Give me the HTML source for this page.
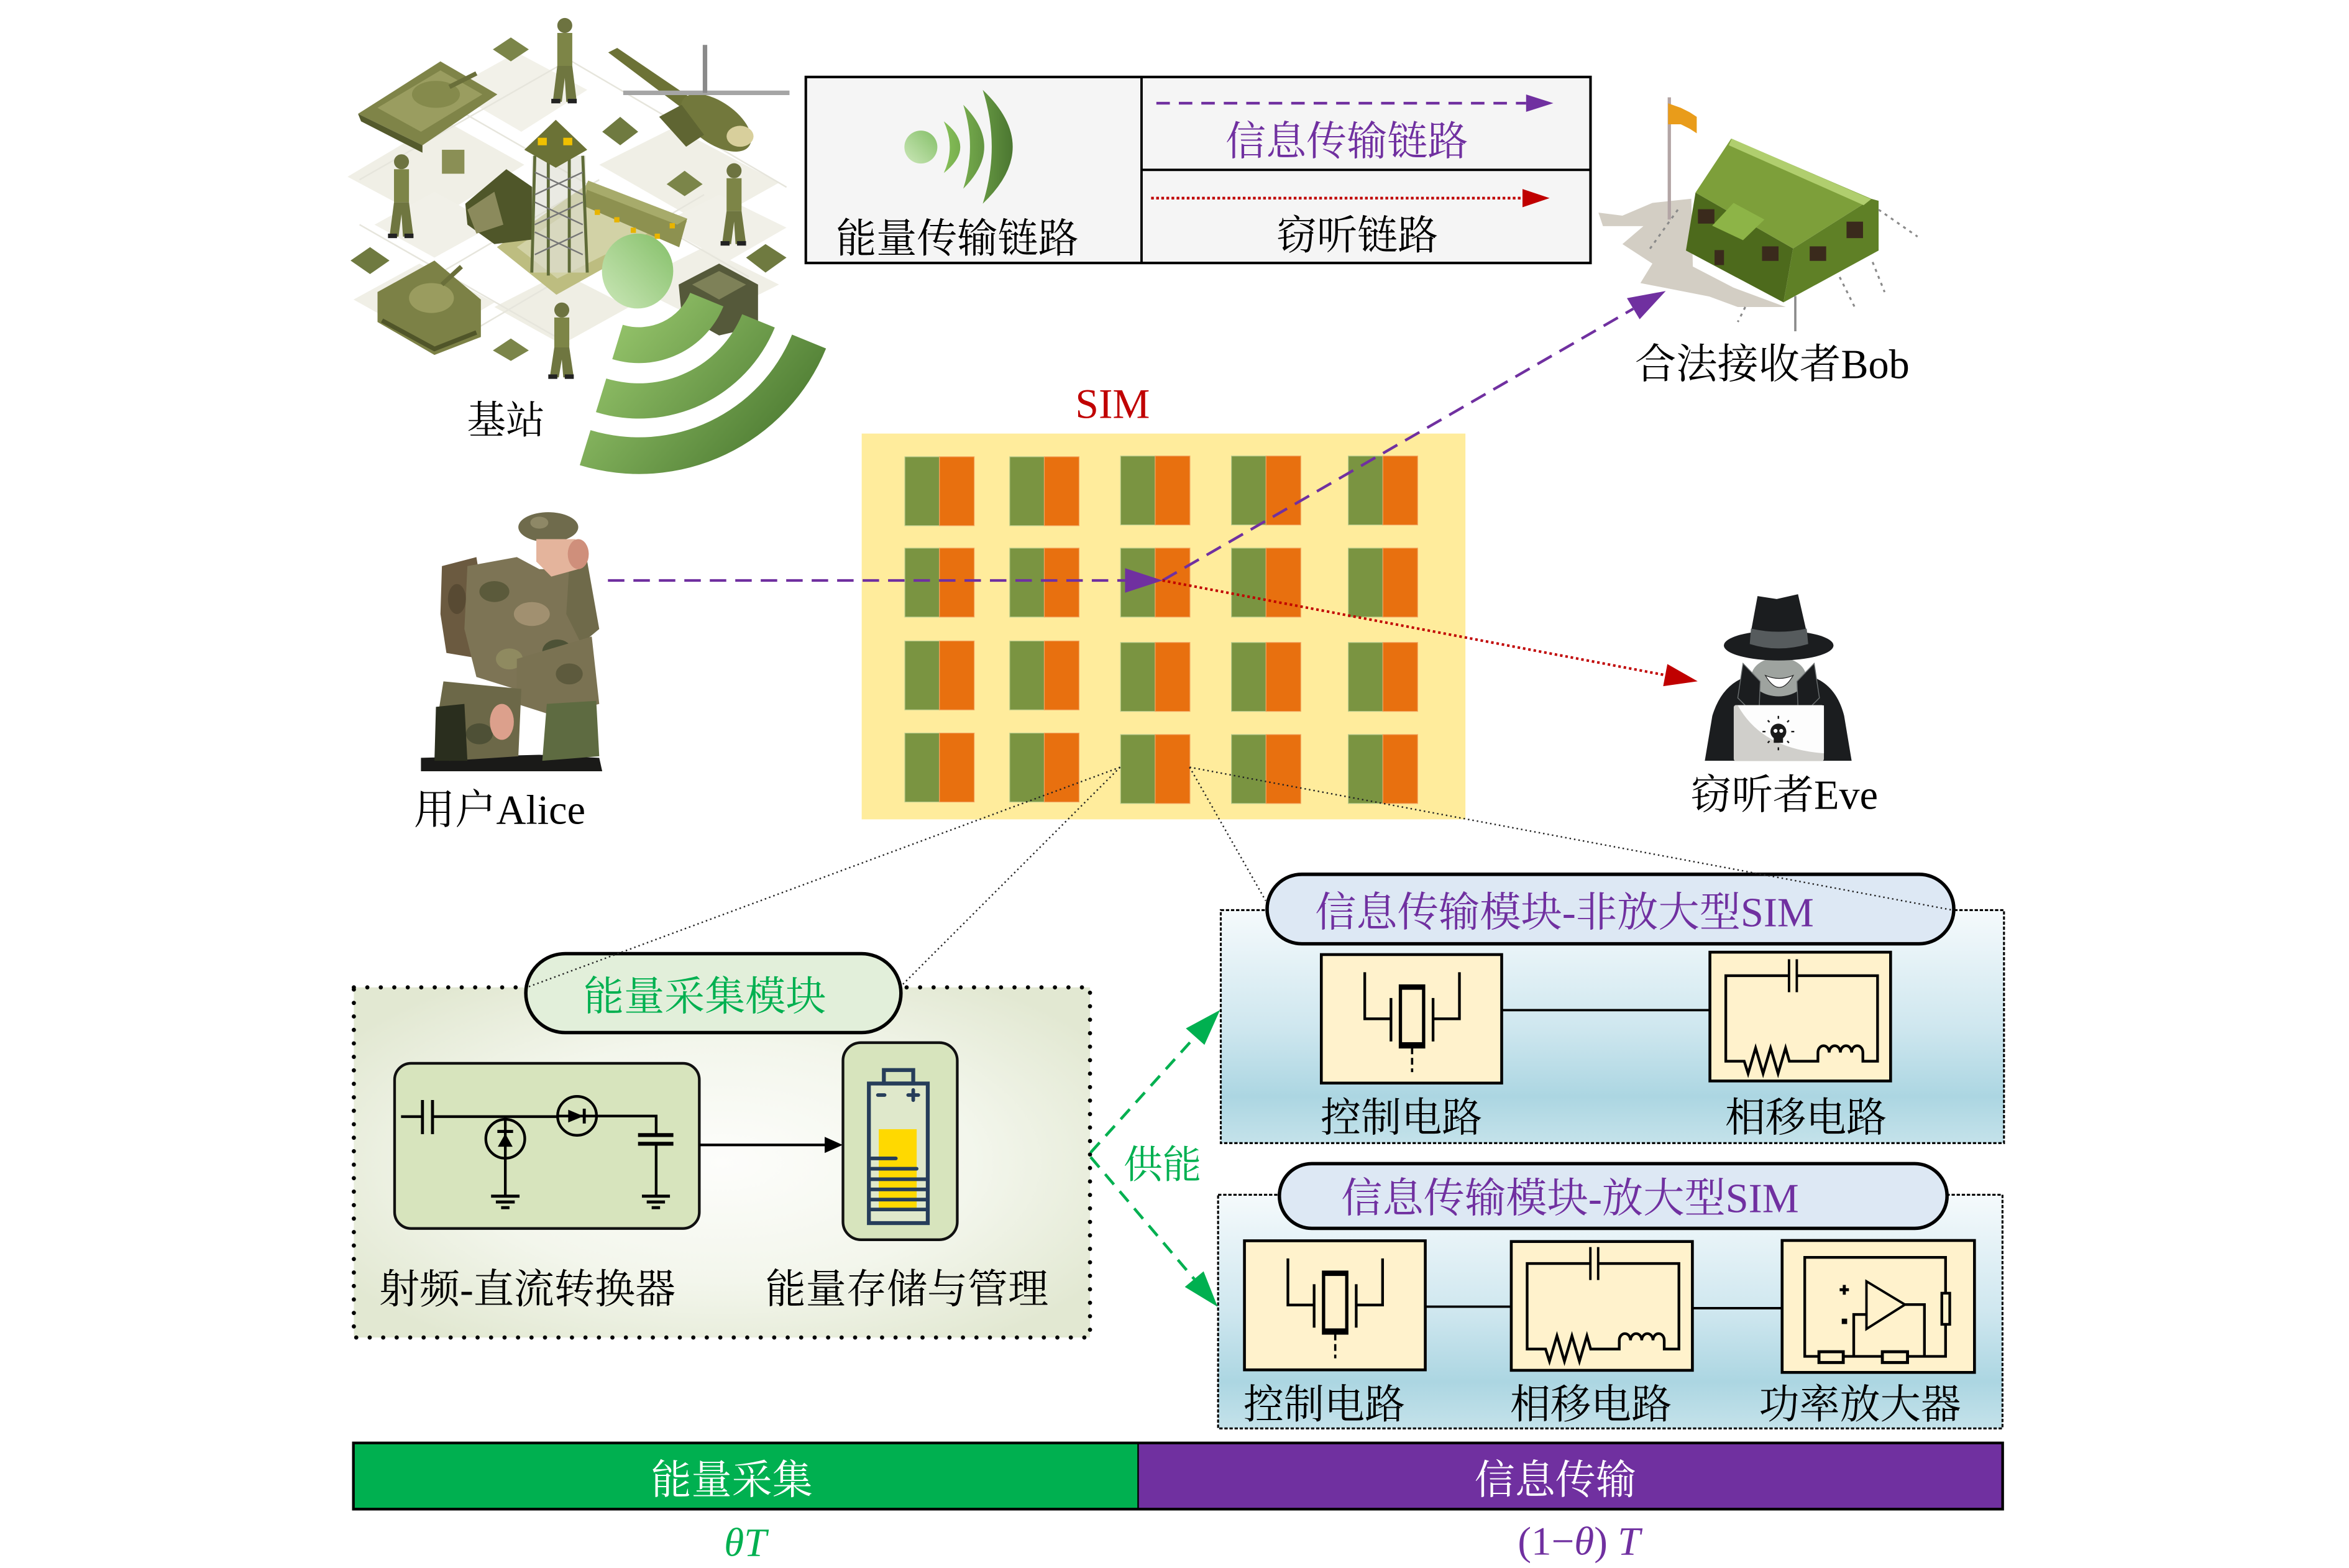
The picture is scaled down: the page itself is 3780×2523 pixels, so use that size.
<!DOCTYPE html>
<html><head><meta charset="utf-8"><title>diagram</title>
<style>
html,body{margin:0;padding:0;background:#fff;width:3780px;height:2523px;overflow:hidden}
svg{display:block}
text{font-family:"Liberation Serif","Noto Serif CJK SC","Noto Sans CJK SC",serif}
</style></head><body>
<svg xmlns="http://www.w3.org/2000/svg" xmlns:xlink="http://www.w3.org/1999/xlink" width="3780" height="2523" viewBox="0 0 1568 1047" preserveAspectRatio="none">
<defs>
<linearGradient id="ringG" gradientUnits="userSpaceOnUse" x1="395" y1="190" x2="550" y2="320">
 <stop offset="0" stop-color="#a2d175"/><stop offset="1" stop-color="#3d6b25"/>
</linearGradient>
<linearGradient id="ballG" x1="0" y1="1" x2="1" y2="0">
 <stop offset="0" stop-color="#cbe7b8"/><stop offset="1" stop-color="#84bf68"/>
</linearGradient>
<linearGradient id="legG" gradientUnits="userSpaceOnUse" x1="625" y1="0" x2="677" y2="0">
 <stop offset="0" stop-color="#8cc75c"/><stop offset="1" stop-color="#4a7530"/>
</linearGradient>
<radialGradient id="enG" cx="0.5" cy="0.5" r="0.62">
 <stop offset="0" stop-color="#fdfdfb"/><stop offset="0.55" stop-color="#f3f6ec"/><stop offset="1" stop-color="#e2e8d2"/>
</radialGradient>
<linearGradient id="blG" x1="0" y1="0" x2="0" y2="1">
 <stop offset="0" stop-color="#f5fafc"/><stop offset="0.5" stop-color="#cfe7ef"/><stop offset="0.8" stop-color="#acd6e2"/><stop offset="1" stop-color="#c4e2ea"/>
</linearGradient>
<g id="cell">
 <rect x="0" y="0" width="23.1" height="46" fill="#7a9441" stroke="#b9cc8e" stroke-width="0.5"/>
 <rect x="23.1" y="0" width="23.2" height="46" fill="#e8700f" stroke="#f2a25e" stroke-width="0.5"/>
</g>
<g id="ctrl" fill="none" stroke="#000" stroke-width="1.8">
 <path d="M29,11.8 V42.9 H47"/>
 <path d="M92.2,11.8 V42.9 H74.6"/>
 <path d="M46.5,29 V58"/>
 <path d="M74.6,29 V58"/>
 <rect x="52.8" y="21" width="15.5" height="40.6" stroke-width="2.2"/>
 <rect x="52.8" y="20" width="15.5" height="3.5" fill="#000" stroke="none"/>
 <rect x="52.8" y="58.5" width="15.5" height="3.5" fill="#000" stroke="none"/>
 <path d="M60.6,62 V78.5" stroke-width="1.5" stroke-dasharray="4.5 2.5"/>
</g>
<g id="phase" fill="none" stroke="#000" stroke-width="1.8">
 <path d="M52.8,15.7 H10.6 V72.8 H22.9 L25.5,81 L30.5,64 L35.5,81 L40.5,64 L45.5,81 L50.5,64 L53,72.8 H72.1 V67 a3.75,4.5 0 0 1 7.5,0 a3.75,4.5 0 0 1 7.5,0 a3.75,4.5 0 0 1 7.5,0 a3.75,4.5 0 0 1 7.5,0 V72.8 H111.9 V15.7 H58"/>
 <path d="M52.8,4.7 V26.7 M58,4.7 V26.7" stroke-width="1.6"/>
</g>
</defs>

<rect x="0" y="0" width="1568" height="1047" fill="#fff"/>

<!-- ===== Base station military illustration ===== -->
<g id="mil">
 <polygon points="232,118 296,80 350,110 288,148" fill="#f0efe6"/>
 <polygon points="300,60 345,35 392,60 348,88" fill="#f2f1e9"/>
 <polygon points="400,110 450,85 520,122 470,150" fill="#f0efe6"/>
 <polygon points="236,200 280,176 330,202 286,228" fill="#f0efe6"/>
 <polygon points="420,190 470,165 520,190 470,215" fill="#f0efe6"/>
 <polygon points="330,205 375,182 420,205 375,230" fill="#efeee4"/>
 <polygon points="250,150 290,128 330,150 290,172" fill="#f1f0e8"/>
 <polygon points="440,150 480,130 525,152 485,175" fill="#f1f0e8"/>
 <path d="M240,120 L380,40 L525,125 M255,205 L400,120 M300,230 L470,130 M240,150 L380,230 M300,70 L500,185" stroke="#e6e5dc" stroke-width="1" fill="none"/>
 <polygon points="239,76 294,41 332,63 282,97" fill="#7f8448"/>
 <polygon points="239,76 282,97 282,102 241,81" fill="#545a2c"/>
 <polygon points="252,72 294,47 322,63 281,88" fill="#9a9d60"/>
 <ellipse cx="291" cy="63" rx="16" ry="9" fill="#858a4c"/>
 <line x1="300" y1="58" x2="318" y2="49" stroke="#6a6f3a" stroke-width="3"/>
 <polygon points="406,35 412,32 462,66 455,72" fill="#6c7236"/>
 <ellipse cx="478" cy="82" rx="27" ry="14" transform="rotate(35 478 82)" fill="#72783c"/>
 <ellipse cx="494" cy="91" rx="9" ry="7" fill="#d8cf9c"/>
 <polygon points="440,78 455,70 470,90 458,98" fill="#5f6532"/>
 <line x1="416" y1="62" x2="527" y2="62" stroke="#a5a5a5" stroke-width="3"/>
 <line x1="470.6" y1="30" x2="470.6" y2="62" stroke="#8a8a8a" stroke-width="3"/>
 <polygon points="331.7,165 392.6,122.7 458.7,148.1 371.4,196.8" fill="#bdbd80"/>
 <polygon points="345,165 392,133 444,150 372,186" fill="#d2d2a6"/>
 <polygon points="392.6,120.6 458.7,146 453.4,165.1 389.9,137.6" fill="#8d9150"/>
 <polygon points="392.6,120.6 458.7,146 452,150 390,126" fill="#a7ab6b"/>
 <rect x="397" y="140" width="3.5" height="3.5" fill="#e8b400"/>
 <rect x="410" y="145" width="3.5" height="3.5" fill="#e8b400"/>
 <rect x="421" y="152" width="3.5" height="3.5" fill="#e8b400"/>
 <rect x="437" y="156" width="3.5" height="3.5" fill="#e8b400"/>
 <rect x="447" y="149" width="3.5" height="3.5" fill="#e8b400"/>
 <polygon points="310.6,136 338,113 355.5,125 355,160 330,163 312,150" fill="#4f5629"/>
 <polygon points="312,140 330,128 336,150 318,156" fill="#8b8a5c"/>
 <rect x="355" y="104" width="36" height="78" fill="#dcdcd0" opacity="0.6"/>
 <path d="M357,104 L355,182 M389,104 L392,182 M366,104 L366,184 M380,104 L380,182" stroke="#5f6b38" stroke-width="2"/>
 <path d="M357,115 L389,130 M389,115 L357,130 M357,135 L389,150 M389,135 L357,150 M357,155 L389,170 M389,155 L357,170" stroke="#777" stroke-width="1"/>
 <polygon points="350,100 371,80 392,100 371,112" fill="#6b7236"/>
 <rect x="359" y="92" width="6" height="5" fill="#f0c000"/>
 <rect x="376" y="92" width="6" height="5" fill="#f0c000"/>
 <polygon points="329,33 341,25 353,33 341,41" fill="#7b8549"/>
 <polygon points="402,88 414,78 426,88 414,97" fill="#6f7a40"/>
 <rect x="295" y="100" width="15" height="16" fill="#8a8f55"/>
 <polygon points="234,174 247,165 260,174 247,183" fill="#6f7a40"/>
 <polygon points="445,123 457,114 469,123 457,131" fill="#7b8549"/>
 <polygon points="498,172 511,163 525,172 511,182" fill="#6f7a40"/>
 <polygon points="329,234 341,226 353,234 341,241" fill="#7b8549"/>
 <polygon points="252,195 290,174 321,200 321,225 290,237 252,215" fill="#7c8146"/>
 <ellipse cx="288" cy="199" rx="15" ry="10" fill="#9a9c5f"/>
 <line x1="295" y1="190" x2="308" y2="178" stroke="#6a6f3a" stroke-width="3"/>
 <path d="M255,214 L290,233 L318,222" stroke="#505529" stroke-width="3" fill="none"/>
 <polygon points="453,190 480,176 506,190 506,218 480,224 455,210" fill="#55593a"/>
 <polygon points="462,190 480,181 498,190 480,200" fill="#7e8158"/>
 <g>
  <ellipse cx="377" cy="17" rx="5" ry="5" fill="#6d7340"/><rect x="372" y="22" width="10" height="22" fill="#7d8547"/><polygon points="372,44 382,44 385,68 378,68 377,52 375,68 369,68" fill="#6f7640"/><rect x="368" y="66" width="6" height="3" fill="#222"/><rect x="379" y="66" width="6" height="3" fill="#222"/>
 </g>
 <g>
  <ellipse cx="268" cy="108" rx="5" ry="5" fill="#6d7340"/><rect x="263" y="113" width="10" height="22" fill="#7d8547"/><polygon points="263,135 273,135 276,158 269,158 268,143 266,158 260,158" fill="#6f7640"/><rect x="259" y="156" width="6" height="3" fill="#222"/><rect x="270" y="156" width="6" height="3" fill="#222"/>
 </g>
 <g>
  <ellipse cx="490" cy="114" rx="5" ry="5" fill="#6d7340"/><rect x="485" y="119" width="10" height="22" fill="#7d8547"/><polygon points="485,141 495,141 498,163 491,163 490,148 488,163 482,163" fill="#6f7640"/><rect x="481" y="161" width="6" height="3" fill="#222"/><rect x="492" y="161" width="6" height="3" fill="#222"/>
 </g>
 <g>
  <ellipse cx="375" cy="207" rx="5" ry="5" fill="#6d7340"/><rect x="370" y="212" width="10" height="20" fill="#7d8547"/><polygon points="370,232 380,232 383,252 376,252 375,240 373,252 367,252" fill="#6f7640"/><rect x="366" y="250" width="6" height="3" fill="#222"/><rect x="377" y="250" width="6" height="3" fill="#222"/>
 </g>
</g>

<path d="M482.9,204.6 A61,61 0 0 1 408.7,239.8 L415.7,216.9 A37,37 0 0 0 460.7,195.5 Z" fill="url(#ringG)"/>
<path d="M517.2,218.7 A98,98 0 0 1 397.8,275.2 L404.7,252.7 A74.5,74.5 0 0 0 495.4,209.8 Z" fill="url(#ringG)"/>
<path d="M551.4,232.7 A135,135 0 0 1 387.0,310.6 L394.2,287.2 A110.5,110.5 0 0 0 528.7,223.4 Z" fill="url(#ringG)"/>
<ellipse cx="425.6" cy="181" rx="23.8" ry="25" fill="url(#ballG)"/>
<text x="337.7" y="289.5" font-size="26" text-anchor="middle" fill="#000">基站</text>

<!-- ===== Legend ===== -->
<rect x="537.9" y="51.4" width="523.8" height="124.2" fill="#f5f5f5" stroke="#000" stroke-width="1.7"/>
<line x1="762" y1="51.4" x2="762" y2="175.6" stroke="#000" stroke-width="1.6"/>
<line x1="762" y1="113.4" x2="1061.7" y2="113.4" stroke="#000" stroke-width="1.6"/>
<ellipse cx="614.7" cy="98.2" rx="11" ry="11" fill="url(#ballG)"/>
<path d="M630,81 Q652,98.2 630,115.5 Q638,98.2 630,81 Z" fill="url(#legG)"/>
<path d="M643,70 Q671,98 643,126 Q652,98 643,70 Z" fill="url(#legG)"/>
<path d="M656,60 Q696,98 656,136 Q668,98 656,60 Z" fill="url(#legG)"/>
<text x="639" y="168.5" font-size="27" text-anchor="middle" fill="#000">能量传输链路</text>
<line x1="771.9" y1="68.9" x2="1018.7" y2="68.9" stroke="#7030a0" stroke-width="1.8" stroke-dasharray="9 6"/>
<polygon points="1018.7,63.1 1036.9,68.9 1018.7,74.7" fill="#7030a0"/>
<text x="899" y="103.5" font-size="27" text-anchor="middle" fill="#7030a0">信息传输链路</text>
<line x1="768.4" y1="132.3" x2="1016.3" y2="132.3" stroke="#c00000" stroke-width="1.8" stroke-dasharray="1.8 1.6"/>
<polygon points="1016.3,126.2 1034.4,132.3 1016.3,138.4" fill="#c00000"/>
<text x="906" y="166.5" font-size="27" text-anchor="middle" fill="#000">窃听链路</text>

<!-- ===== Bob tent ===== -->
<polygon points="1067,142 1083,144 1103,135.5 1129,132.7 1130,178 1157,192 1192,205 1160,205 1141,198 1095,189 1103,176 1083,163 1097,151 1070,151" fill="#d3cec4"/>
<line x1="1114.3" y1="65" x2="1114.3" y2="146.6" stroke="#b3a5a5" stroke-width="2.2"/>
<polygon points="1113.5,69 1122,72 1128,75 1132.6,78 1132.6,89 1128,86 1122,83 1113.5,83" fill="#e99c1a"/>
<polygon points="1131.8,128.6 1196.9,165.9 1190.5,201.9 1125.4,167.3" fill="#4d6a1c"/>
<polygon points="1196.9,165.9 1249.3,132.8 1254,134.1 1254,167.3 1190.5,201.9" fill="#5f8026"/>
<polygon points="1155.6,92.6 1249.3,132.8 1196.9,165.9 1131.8,128.6" fill="#7d9f3a"/>
<polygon points="1156,92.6 1249,133 1244,137 1154,97" fill="#b0ce6e"/>
<polygon points="1157.2,135.5 1177.8,146.6 1163.5,160.4 1142.9,150.7" fill="#8db447"/>
<rect x="1133.4" y="139.7" width="11" height="9.6" fill="#3a2a1c"/>
<rect x="1176.2" y="164.5" width="11" height="9.7" fill="#3a2a1c"/>
<rect x="1208" y="164.5" width="11" height="9.7" fill="#3a2a1c"/>
<rect x="1232.6" y="148" width="11" height="11" fill="#3a2a1c"/>
<rect x="1144.5" y="167" width="6.3" height="10" fill="#3a2a1c"/>
<path d="M1254,140 L1280,158 M1250,175 L1258,195 M1228,185 L1238,205 M1120,140 L1100,168 M1165,205 L1160,215" stroke="#8a8a8a" stroke-width="1.3" stroke-dasharray="2 3" fill="none"/>
<line x1="1198.4" y1="197.7" x2="1198.4" y2="221.2" stroke="#8a8a8a" stroke-width="1.5"/>
<text x="1183" y="252.5" font-size="27.5" text-anchor="middle" fill="#000">合法接收者Bob</text>

<!-- ===== SIM ===== -->
<text x="742.7" y="279" font-size="28" text-anchor="middle" fill="#c00000">SIM</text>
<rect x="575.2" y="289.5" width="403" height="257.6" fill="#ffec9c"/>
<use xlink:href="#cell" x="604" y="305"/><use xlink:href="#cell" x="674" y="305"/><use xlink:href="#cell" x="748" y="304.5"/><use xlink:href="#cell" x="822" y="304.5"/><use xlink:href="#cell" x="900" y="304.5"/>
<use xlink:href="#cell" x="604" y="366"/><use xlink:href="#cell" x="674" y="366"/><use xlink:href="#cell" x="748" y="366"/><use xlink:href="#cell" x="822" y="366"/><use xlink:href="#cell" x="900" y="366"/>
<use xlink:href="#cell" x="604" y="428"/><use xlink:href="#cell" x="674" y="428"/><use xlink:href="#cell" x="748" y="429"/><use xlink:href="#cell" x="822" y="429"/><use xlink:href="#cell" x="900" y="429"/>
<use xlink:href="#cell" x="604" y="489.5"/><use xlink:href="#cell" x="674" y="489.5"/><use xlink:href="#cell" x="748" y="490.5"/><use xlink:href="#cell" x="822" y="490.5"/><use xlink:href="#cell" x="900" y="490.5"/>

<!-- ===== Alice ===== -->
<g>
 <polygon points="281,506 360,504 400,506 402,515 281,515" fill="#1a1a18"/>
 <polygon points="295,378 318,372 326,420 322,440 298,436 294,410" fill="#6b5a40"/>
 <polygon points="312,378 345,372 360,380 388,380 392,420 386,455 350,462 318,452 310,420" fill="#7d7455"/>
 <ellipse cx="330" cy="395" rx="10" ry="7" fill="#5b5a3b"/>
 <ellipse cx="355" cy="410" rx="12" ry="8" fill="#a19070"/>
 <ellipse cx="372" cy="435" rx="10" ry="8" fill="#4d5236"/>
 <ellipse cx="340" cy="440" rx="9" ry="7" fill="#8f8a60"/>
 <ellipse cx="305" cy="400" rx="6" ry="10" fill="#584a33"/>
 <polygon points="380,378 392,375 400,420 388,430 378,410" fill="#6f6a4a"/>
 <polygon points="345,440 395,425 400,470 370,478 345,470" fill="#7a7252"/>
 <ellipse cx="380" cy="450" rx="9" ry="7" fill="#5d5a3d"/>
 <polygon points="365,470 398,468 400,505 362,508" fill="#5e6b41"/>
 <polygon points="296,455 348,460 346,505 300,508 292,480" fill="#6c6848"/>
 <ellipse cx="320" cy="490" rx="9" ry="7" fill="#4e5036"/>
 <polygon points="291,472 310,470 312,508 290,508" fill="#2a2e1e"/>
 <ellipse cx="335" cy="482" rx="8" ry="12" fill="#dca08c"/>
 <ellipse cx="366" cy="352" rx="20" ry="10" fill="#6f6b4c"/>
 <ellipse cx="360" cy="349" rx="6" ry="4" fill="#8e8866"/>
 <polygon points="358,360 384,360 386,380 368,385 358,375" fill="#e4b49c"/>
 <ellipse cx="386" cy="370" rx="7" ry="10" fill="#cf8f7b"/>
</g>
<text x="333.5" y="550" font-size="27.5" text-anchor="middle" fill="#000">用户Alice</text>

<!-- ===== Eve ===== -->
<g>
 <path d="M1138,508 L1143,478 Q1149,458 1165,452 L1210,452 Q1226,458 1231,478 L1236,508 Z" fill="#1b1d1f"/>
 <ellipse cx="1187.3" cy="452" rx="18.3" ry="13" fill="#9ea39f"/>
 <polygon points="1163.5,443 1175,455 1174,480 1160,466" fill="#1b1d1f" stroke="#6a6f70" stroke-width="0.6"/>
 <polygon points="1211,443 1199.5,455 1200.5,480 1214.5,466" fill="#1b1d1f" stroke="#6a6f70" stroke-width="0.6"/>
 <path d="M1178.4,451 Q1187.7,467 1197,451 Q1187.7,455 1178.4,451 Z" fill="#fff" stroke="#222" stroke-width="0.5"/>
 <ellipse cx="1187.3" cy="431" rx="36.6" ry="10" fill="#1b1d1f"/>
 <path d="M1173.2,398 L1186,400 L1200.2,396.8 L1206.4,424 Q1187,429 1168.4,424 Z" fill="#1b1d1f"/>
 <path d="M1168.8,419.7 Q1187,424 1206,419.7 L1207,430 Q1187,436 1168,430 Z" fill="#565b5d"/>
 <rect x="1157.3" y="470.8" width="60.2" height="37.4" rx="1.5" fill="#d0cfcb"/>
 <path d="M1160,471 H1217.5 V503 Q1176,500 1160,471 Z" fill="#fdfdfd"/>
 <circle cx="1187.1" cy="488.5" r="5.3" fill="#1a1a1a"/>
 <rect x="1184" y="492" width="6.2" height="4" fill="#1a1a1a"/>
 <circle cx="1185.2" cy="488" r="1.3" fill="#fff"/><circle cx="1189" cy="488" r="1.3" fill="#fff"/>
 <path d="M1187.1,478 V480 M1187.1,499 V501 M1176.5,488.5 H1178.5 M1195.7,488.5 H1197.7 M1180,481 L1181.2,482.2 M1194.2,481 L1193,482.2 M1180,496 L1181.2,494.8 M1194.2,496 L1193,494.8" stroke="#1a1a1a" stroke-width="1"/>
</g>
<text x="1191" y="540" font-size="27.5" text-anchor="middle" fill="#000">窃听者Eve</text>

<!-- ===== Links ===== -->
<line x1="405.8" y1="387.6" x2="751" y2="387.6" stroke="#7030a0" stroke-width="1.8" stroke-dasharray="11 6"/>
<polygon points="751,379.4 776,387.6 751,395.8" fill="#7030a0"/>
<line x1="776" y1="387.6" x2="1090.2" y2="206.2" stroke="#7030a0" stroke-width="1.8" stroke-dasharray="11 6"/>
<polygon points="1111.9,194.3 1086,199.1 1094.5,213.2" fill="#7030a0"/>
<line x1="776" y1="387.6" x2="1111.6" y2="450.8" stroke="#c00000" stroke-width="1.7" stroke-dasharray="1.7 1.9"/>
<polygon points="1133.2,454.9 1110.2,458.2 1113,443.4" fill="#c00000"/>

<!-- ===== Energy module ===== -->
<rect x="236.2" y="659.3" width="491.4" height="233.8" fill="url(#enG)" stroke="#000" stroke-width="2.8" stroke-dasharray="0 9" stroke-linecap="round"/>
<rect x="351" y="636.8" width="250.4" height="52.7" rx="26.3" fill="#e2efda" stroke="#000" stroke-width="2.3"/>
<text x="470.5" y="674.5" font-size="27" text-anchor="middle" fill="#00b050">能量采集模块</text>
<rect x="263.4" y="710" width="203.4" height="110.3" rx="11" fill="#d7e4bd" stroke="#111" stroke-width="1.8"/>
<g stroke="#000" stroke-width="1.8" fill="none">
 <path d="M267.7,745.6 H282"/>
 <path d="M282,734.5 V757.3 M288.7,734.5 V757.3" stroke-width="2"/>
 <path d="M288.7,745.6 H372.2"/>
 <circle cx="385.2" cy="745.1" r="13"/>
 <path d="M372.2,745.2 H398.7 H438 V757.9"/>
 <path d="M425.9,757.9 H449.5 M425.9,763.7 H449.5" stroke-width="2.6"/>
 <path d="M438,763.7 V798.7"/>
 <path d="M428.5,798.7 H447.2 M431.7,802.6 H443.9 M435,806.4 H440.6" stroke-width="2"/>
 <circle cx="337.3" cy="760.4" r="13"/>
 <path d="M337.3,745.6 V798.7"/>
 <path d="M327.8,798.7 H346.8 M331,802.6 H343.6 M334.5,806.4 H340.1" stroke-width="2"/>
 <path d="M332,755.5 H342.5" stroke-width="2"/>
 <path d="M390,740.3 V750.2" stroke-width="2"/>
</g>
<polygon points="379.3,741 389.5,745.3 379.3,749.5" fill="#000"/>
<polygon points="332.3,765.7 342.2,765.7 337.3,757" fill="#000"/>
<line x1="466.8" y1="764.5" x2="551" y2="764.5" stroke="#000" stroke-width="1.8"/>
<polygon points="550.5,759.1 562.5,764.5 550.5,769.9" fill="#000"/>
<rect x="562.7" y="696.2" width="76.3" height="131.6" rx="12" fill="#d7e4bd" stroke="#111" stroke-width="1.8"/>
<rect x="580" y="723.5" width="39.3" height="93.2" fill="#dfe8cb" stroke="#263d5a" stroke-width="2.6"/>
<rect x="586.6" y="754" width="25.3" height="53.6" fill="#ffd900"/>
<rect x="590" y="714.5" width="19.6" height="9" fill="none" stroke="#263d5a" stroke-width="2.6"/>
<g stroke="#263d5a" stroke-width="2.4" stroke-linecap="round">
 <path d="M581.7,773.5 H598 M581.7,780.4 H611.9"/>
 <path d="M580,787.4 H619.3 M580,794.2 H619.3 M580,801 H619.3 M580,807.6 H619.3" stroke-linecap="butt"/>
 <path d="M586,731.2 H590.5"/>
 <path d="M606.2,731.2 H613 M609.6,727.8 V734.6"/>
</g>
<text x="352" y="870" font-size="27" text-anchor="middle" fill="#000">射频-直流转换器</text>
<text x="605.4" y="870" font-size="27" text-anchor="middle" fill="#000">能量存储与管理</text>

<!-- ===== supply arrows ===== -->
<line x1="728" y1="769.6" x2="797.8" y2="692.2" stroke="#00b050" stroke-width="1.9" stroke-dasharray="9 6"/>
<polygon points="814.4,674.4 791.6,686.7 804,697.7" fill="#00b050"/>
<line x1="728" y1="772.6" x2="797.2" y2="854.1" stroke="#00b050" stroke-width="1.9" stroke-dasharray="9 6"/>
<polygon points="812.8,872.6 790.9,859.3 803.4,848.9" fill="#00b050"/>
<text x="776" y="786.5" font-size="26" text-anchor="middle" fill="#00b050">供能</text>

<!-- ===== Info module (non-amplified) ===== -->
<rect x="814.9" y="607.7" width="522.8" height="155.6" fill="url(#blG)" stroke="#000" stroke-width="1.3" stroke-dasharray="2.2 1.2"/>
<rect x="845.8" y="583.8" width="458.4" height="46.4" rx="23.2" fill="#dde8f4" stroke="#000" stroke-width="2.3"/>
<text x="1044.3" y="618.5" font-size="27.5" text-anchor="middle" fill="#7030a0">信息传输模块-非放大型SIM</text>
<line x1="1002.4" y1="674.5" x2="1141.4" y2="674.5" stroke="#000" stroke-width="1.6"/>
<rect x="882" y="637.4" width="120.4" height="85.8" fill="#fff2cc" stroke="#000" stroke-width="1.9"/>
<use xlink:href="#ctrl" transform="translate(882,637.4)"/>
<rect x="1141.4" y="635.8" width="120.6" height="86" fill="#fff2cc" stroke="#000" stroke-width="1.9"/>
<use xlink:href="#phase" transform="translate(1141.4,635.8)"/>
<text x="935.5" y="755.5" font-size="27" text-anchor="middle" fill="#000">控制电路</text>
<text x="1205.5" y="755.5" font-size="27" text-anchor="middle" fill="#000">相移电路</text>

<!-- ===== Info module (amplified) ===== -->
<rect x="813.1" y="797.8" width="523.6" height="156" fill="url(#blG)" stroke="#000" stroke-width="1.3" stroke-dasharray="2.2 1.2"/>
<rect x="854" y="777" width="445.7" height="43.2" rx="21.6" fill="#dde8f4" stroke="#000" stroke-width="2.3"/>
<text x="1048" y="809.5" font-size="27.5" text-anchor="middle" fill="#7030a0">信息传输模块-放大型SIM</text>
<line x1="951.4" y1="872.5" x2="1008.8" y2="872.5" stroke="#000" stroke-width="1.6"/>
<line x1="1129.7" y1="873.5" x2="1189.6" y2="873.5" stroke="#000" stroke-width="1.6"/>
<rect x="830.7" y="828.5" width="120.7" height="86.2" fill="#fff2cc" stroke="#000" stroke-width="1.9"/>
<use xlink:href="#ctrl" transform="translate(830.7,828.5)"/>
<rect x="1008.8" y="829" width="120.9" height="86" fill="#fff2cc" stroke="#000" stroke-width="1.9"/>
<use xlink:href="#phase" transform="translate(1008.8,828)"/>
<rect x="1189.6" y="828.3" width="128.4" height="88.1" fill="#fff2cc" stroke="#000" stroke-width="1.9"/>
<g fill="none" stroke="#000" stroke-width="1.8">
 <path d="M1298.7,863.5 V839.6 H1204.7 V905.7 H1298.7 V884.3"/>
 <rect x="1296.2" y="863.5" width="5.3" height="20.8" fill="#fff2cc"/>
 <rect x="1214.2" y="902.6" width="16.2" height="7.2" fill="#fff2cc" stroke-width="2"/>
 <rect x="1256.5" y="902.6" width="16.8" height="7.2" fill="#fff2cc" stroke-width="2"/>
 <polygon points="1245.9,855.6 1245.9,887.4 1271.6,871.1" fill="#fff2cc" stroke-width="1.6"/>
 <path d="M1271.6,871.1 H1284.6 V905.7"/>
 <path d="M1245.9,877.7 H1237.4 V905.7"/>
 <path d="M1231.1,858 V864.5 M1228,861.2 H1234.2" stroke-width="2"/>
</g>
<rect x="1229.4" y="880.5" width="3.6" height="3.6" fill="#000"/>
<text x="884" y="947" font-size="27" text-anchor="middle" fill="#000">控制电路</text>
<text x="1062" y="947" font-size="27" text-anchor="middle" fill="#000">相移电路</text>
<text x="1241.6" y="947" font-size="27" text-anchor="middle" fill="#000">功率放大器</text>

<!-- ===== dotted connectors ===== -->
<g stroke="#222" stroke-width="1" stroke-dasharray="1 2" fill="none">
 <line x1="747.7" y1="512.3" x2="350.9" y2="659.6"/>
 <line x1="747.7" y1="512.3" x2="601.7" y2="658.2"/>
 <line x1="794.1" y1="512.3" x2="844.9" y2="601.5"/>
 <line x1="794.1" y1="512.3" x2="1303.3" y2="607.7"/>
</g>

<!-- ===== time bar ===== -->
<rect x="235.9" y="963.5" width="523.8" height="44.2" fill="#00b050"/>
<rect x="759.7" y="963.5" width="577.1" height="44.2" fill="#7030a0"/>
<rect x="235.9" y="963.5" width="1100.9" height="44.2" fill="none" stroke="#000" stroke-width="1.8"/>
<line x1="759.7" y1="963.5" x2="759.7" y2="1007.7" stroke="#000" stroke-width="1"/>
<text x="488.5" y="997.5" font-size="27" text-anchor="middle" fill="#fff">能量采集</text>
<text x="1038.2" y="997.5" font-size="27" text-anchor="middle" fill="#fff">信息传输</text>
<text x="497.5" y="1039" font-size="27" text-anchor="middle" fill="#00b050" font-style="italic">θT</text>
<text x="1054" y="1038" font-size="27" text-anchor="middle" fill="#7030a0">(1−<tspan font-style="italic">θ</tspan>) <tspan font-style="italic">T</tspan></text>
</svg>
</body></html>
